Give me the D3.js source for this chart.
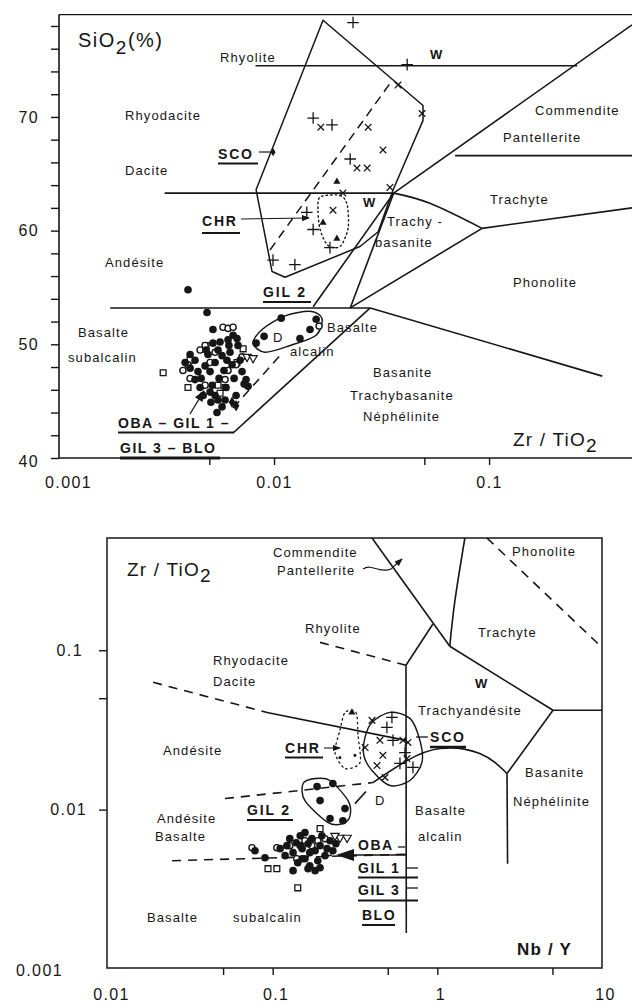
<!DOCTYPE html>
<html>
<head>
<meta charset="utf-8">
<script src="https://cdn.jsdelivr.net/npm/d3@7"></script>
<style>
  body { margin: 0; background: #fff; }
  svg text { font-family: "Liberation Sans", Arial, Helvetica, sans-serif; fill: #161616; }
</style>
</head>
<body>
<svg id="chart" width="632" height="1004"></svg>
<script>
// ================= Upper diagram: SiO2 (%) versus Zr/TiO2 =================
const topXTicks = [0.001, 0.005, 0.01, 0.05, 0.1];
const topXLabels = ["0.001", "", "0.01", "", "0.1"];
const topYTicks = [40, 42, 44, 46, 48, 50, 52, 54, 56, 58, 60, 62, 64, 66, 68, 70, 72, 74, 76, 78];
const topYLabels = [40, 50, 60, 70];

// field boundaries [Zr/TiO2, SiO2]
const topFieldLines = [
  [[0.0082, 74.5], [0.257, 74.5]],
  [[0.036, 63.3], [0.462, 78.1]],
  [[0.0695, 66.6], [0.462, 66.6]],
  [[0.0031, 63.3], [0.036, 63.3]],
  [[0.0927, 60.2], [0.462, 62.0]],
  [[0.0927, 60.2], [0.0226, 53.2]],
  [[0.036, 63.3], [0.0226, 53.2]],
  [[0.036, 63.3], [0.0152, 53.3]],
  [[0.00173, 53.2], [0.028, 53.2]],
  [[0.028, 53.2], [0.336, 47.2]],
  [[0.00645, 42.2], [0.028, 53.2]]
];
const topFieldCurves = [
  [[0.036, 63.3], [0.0531, 62.4], [0.0927, 60.2]]
];
const topTrendDashed = [
  [[0.00958, 58.3], [0.0354, 73.2]],
  [[0.00645, 44.4], [0.011, 49.3]]
];
const topScoEnvelope = [[0.0169, 78.5], [0.0493, 71.0], [0.0493, 69.7], [0.0358, 63.6], [0.0305, 59.9],
  [0.0251, 58.6], [0.01125, 55.9], [0.00979, 56.4], [0.00825, 63.6]];
const topChrEnvelope = [[0.0164, 62.96], [0.0203, 63.1], [0.0219, 62.25], [0.0221, 60.2], [0.0203, 58.6],
  [0.0178, 58.7], [0.0164, 60.05], [0.016, 61.8]];
const topGil2Envelope = [[0.00799, 50.1], [0.0088, 51.3], [0.01125, 52.5], [0.0147, 52.9], [0.0167, 52.3],
  [0.0157, 50.8], [0.0119, 49.9], [0.00908, 49.3]];

// samples [Zr/TiO2, SiO2]
const topBasaltDots = [[0.00398, 54.8], [0.00488, 52.8], [0.0052, 51.3], [0.00611, 50.4], [0.00645, 50.8],
  [0.00673, 50.5], [0.00617, 49.9], [0.00561, 50.2], [0.0052, 50.1], [0.00483, 49.5], [0.00549, 49.5],
  [0.0068, 49.9], [0.00493, 49.1], [0.00573, 49.0], [0.00624, 49.3], [0.00407, 49.1], [0.00386, 48.4],
  [0.00429, 48.6], [0.00532, 48.4], [0.00604, 48.6], [0.00695, 48.6], [0.00478, 48.1], [0.00638, 48.2],
  [0.00407, 47.9], [0.00585, 47.7], [0.00443, 47.6], [0.00504, 47.6], [0.0071, 47.6], [0.00458, 47.0],
  [0.00555, 47.0], [0.00652, 47.0], [0.00429, 46.9], [0.00741, 46.9], [0.00726, 46.5], [0.00515, 46.4],
  [0.00757, 46.3], [0.00598, 46.2], [0.00453, 46.2], [0.00504, 45.8], [0.00532, 45.5], [0.00666, 45.5],
  [0.00468, 45.5], [0.00549, 45.1], [0.00592, 45.1], [0.00509, 44.9], [0.00573, 44.5], [0.00543, 44.0]];
const topBasaltRings = [[0.00579, 51.5], [0.00611, 51.4], [0.00645, 51.5], [0.00453, 49.5], [0.00398, 48.2],
  [0.00478, 49.9], [0.00532, 49.3], [0.00407, 47.0], [0.00611, 47.7], [0.00666, 48.2], [0.0071, 48.9],
  [0.00504, 48.4], [0.00592, 46.9], [0.00478, 46.4], [0.00377, 47.7]];
const topBasaltSquares = [[0.00305, 47.5], [0.00398, 46.2], [0.00483, 49.9], [0.00718, 49.6], [0.00592, 46.2],
  [0.00549, 46.4], [0.00407, 48.6], [0.00673, 48.4], [0.00561, 45.7]];
const topBasaltTriangles = [[0.00749, 48.9], [0.00799, 48.8]];
const topBasaltDiamonds = [[0.00638, 44.9], [0.00666, 44.6]];
const topGil2Dots = [[0.00825, 50.1], [0.00899, 50.7], [0.0108, 52.3], [0.0132, 50.5], [0.0157, 52.2], [0.0147, 51.3]];
const topGil2Rings = [[0.0162, 51.6]];
const topScoPlus = [[0.0152, 69.9], [0.0186, 69.3], [0.0226, 66.3], [0.0416, 74.6], [0.0233, 78.3],
  [0.0142, 61.6], [0.0152, 60.1], [0.0182, 58.5], [0.0125, 57.0], [0.00989, 57.4]];
const topScoCross = [[0.0165, 69.1], [0.0274, 69.1], [0.0377, 72.8], [0.0488, 70.3], [0.0321, 67.1],
  [0.0243, 65.5], [0.0271, 65.5], [0.0346, 63.8], [0.0209, 63.3], [0.0188, 61.8]];
const topChrTriangles = [[0.0196, 64.3], [0.0169, 60.7], [0.0196, 59.3]];

// ================= Lower diagram: Zr/TiO2 versus Nb/Y =================
const botXTicks = [0.01, 0.05, 0.1, 0.5, 1, 5, 10];
const botXLabels = ["0.01", "", "0.1", "", "1", "", "10"];
const botYTicks = [0.001, 0.01, 0.05, 0.1];
const botYLabels = ["0.001", "0.01", "", "0.1"];

// field boundaries [Nb/Y, Zr/TiO2]
const botFieldLines = [
  [[0.401, 0.506], [1.19, 0.106]],
  [[1.19, 0.106], [5.04, 0.042]],
  [[5.04, 0.042], [10, 0.042]],
  [[5.04, 0.042], [2.65, 0.01684]],
  [[2.65, 0.01684], [2.67, 0.00457]],
  [[0.94, 0.146], [0.645, 0.0805]],
  [[0.645, 0.0805], [0.648, 0.00168]],
  [[0.0924, 0.0407], [0.645, 0.0272]]
];
const botFieldCurves = [
  [[1.47, 0.506], [1.28, 0.206], [1.19, 0.106]],
  [[0.406, 0.01478], [0.654, 0.0203], [1.04, 0.0242], [1.81, 0.0225], [2.65, 0.01684]]
];
const botFieldDashed = [
  [[2.0, 0.506], [10, 0.104]],
  [[0.194, 0.112], [0.645, 0.0805]],
  [[0.0188, 0.0629], [0.0924, 0.0407]],
  [[0.0513, 0.01173], [0.406, 0.01478]],
  [[0.0245, 0.00478], [0.645, 0.00525]]
];
const botTieLines = [
  [[0.316, 0.0109], [0.369, 0.013]]
];
const botScoEnvelope = [[0.3635, 0.02837], [0.401, 0.03524], [0.5155, 0.04074], [0.682, 0.03736],
  [0.784, 0.02716], [0.806, 0.01975], [0.682, 0.01522], [0.5155, 0.01416], [0.401, 0.01759], [0.358, 0.02186]];
const botChrEnvelope = [[0.275, 0.0407], [0.321, 0.0407], [0.33, 0.0292], [0.339, 0.01975], [0.275, 0.0181],
  [0.239, 0.0228], [0.256, 0.0314]];
const botGil2Envelope = [[0.153, 0.01457], [0.181, 0.01567], [0.223, 0.01522], [0.287, 0.01139],
  [0.295, 0.00917], [0.267, 0.00817], [0.217, 0.00829], [0.157, 0.01139]];

// samples [Nb/Y, Zr/TiO2]
const botBasaltDots = [[0.0781, 0.00552], [0.0898, 0.00499], [0.111, 0.00569], [0.122, 0.00594], [0.127, 0.00657],
  [0.133, 0.00537], [0.139, 0.0062], [0.147, 0.00686], [0.151, 0.00569], [0.157, 0.00492], [0.164, 0.00611],
  [0.168, 0.00444], [0.173, 0.00657], [0.181, 0.00552], [0.188, 0.00478], [0.194, 0.00594], [0.199, 0.00686],
  [0.208, 0.00514], [0.214, 0.00569], [0.223, 0.00638], [0.142, 0.00464], [0.133, 0.00414], [0.181, 0.00414],
  [0.194, 0.00432], [0.157, 0.00717], [0.119, 0.00514], [0.168, 0.00537], [0.232, 0.00552], [0.242, 0.00611],
  [0.147, 0.00594], [0.164, 0.00426], [0.151, 0.00492]];
const botBasaltRings = [[0.0749, 0.00577], [0.106, 0.00577], [0.14, 0.00492], [0.127, 0.00594],
  [0.173, 0.00594], [0.188, 0.00638], [0.208, 0.00657], [0.157, 0.00638]];
const botBasaltSquares = [[0.0937, 0.00426], [0.106, 0.00426], [0.142, 0.00323], [0.194, 0.0076], [0.217, 0.00537]];
const botBasaltTriangles = [[0.256, 0.00667], [0.283, 0.00667], [0.239, 0.00686]];
const botGil2Dots = [[0.186, 0.01395], [0.232, 0.01457], [0.194, 0.01139], [0.275, 0.01015], [0.267, 0.00852], [0.223, 0.00878]];
const botScoPlus = [[0.53, 0.0379], [0.494, 0.0328], [0.538, 0.0272], [0.636, 0.0228], [0.711, 0.0184], [0.593, 0.0195]];
const botScoCross = [[0.401, 0.0363], [0.448, 0.0272], [0.618, 0.0272], [0.663, 0.0264], [0.364, 0.0245],
  [0.467, 0.0219], [0.654, 0.0209], [0.43, 0.0189], [0.481, 0.0159]];
const botChrTriangles = [[0.303, 0.0407]];
const botChrSmall = [[0.256, 0.0212], [0.316, 0.0219]];

// ================= drawing =================
const INK = "#161616";
const svg = d3.select("#chart");
const defs = svg.append("defs");
defs.append("marker").attr("id", "arrow").attr("viewBox", "0 0 10 8")
  .attr("refX", 9).attr("refY", 4).attr("markerWidth", 8).attr("markerHeight", 6.4)
  .attr("markerUnits", "userSpaceOnUse").attr("orient", "auto")
  .append("path").attr("d", "M0,0 L10,4 L0,8 Z").attr("fill", INK);
defs.append("marker").attr("id", "arrowBig").attr("viewBox", "0 0 10 8")
  .attr("refX", 9).attr("refY", 4).attr("markerWidth", 12).attr("markerHeight", 9)
  .attr("markerUnits", "userSpaceOnUse").attr("orient", "auto")
  .append("path").attr("d", "M0,0 L10,4 L0,8 Z").attr("fill", INK);

function txt(g, s, x, y, o = {}) {
  return g.append("text").attr("x", x).attr("y", y)
    .attr("font-size", o.size || 13)
    .attr("letter-spacing", o.ls !== undefined ? o.ls : 1.1)
    .attr("font-weight", o.bold ? "bold" : null)
    .attr("text-anchor", o.anchor || "start")
    .text(s);
}
function seg(g, x1, y1, x2, y2, w = 1.4, extra) {
  const l = g.append("line").attr("x1", x1).attr("y1", y1).attr("x2", x2).attr("y2", y2)
    .attr("stroke", INK).attr("stroke-width", w);
  if (extra) extra(l);
  return l;
}
function drawLines(g, sets, x, y, opt = {}) {
  const gen = d3.line().x(d => x(d[0])).y(d => y(d[1])).curve(opt.curve || d3.curveLinear);
  g.selectAll(null).data(sets).join("path")
    .attr("d", gen).attr("fill", "none").attr("stroke", INK)
    .attr("stroke-width", opt.width || 1.6)
    .attr("stroke-dasharray", opt.dash || null)
    .attr("stroke-linejoin", "round");
}
function drawShape(g, pts, x, y, curve, opt = {}) {
  const gen = d3.line().x(d => x(d[0])).y(d => y(d[1])).curve(curve);
  g.append("path").datum(pts).attr("d", gen).attr("fill", "none").attr("stroke", INK)
    .attr("stroke-width", opt.width || 1.4).attr("stroke-dasharray", opt.dash || null)
    .attr("stroke-linejoin", "round").attr("stroke-linecap", "round");
}
function drawPoints(g, data, x, y, kind) {
  const sel = g.selectAll(null).data(data).join("path")
    .attr("transform", d => `translate(${x(d[0])},${y(d[1])})`);
  const sym = d3.symbol();
  if (kind === "dot") sel.attr("d", sym.type(d3.symbolCircle).size(46)()).attr("fill", INK);
  if (kind === "ring") sel.attr("d", sym.type(d3.symbolCircle).size(30)()).attr("fill", "#fff").attr("stroke", INK).attr("stroke-width", 1.4);
  if (kind === "square") sel.attr("d", sym.type(d3.symbolSquare).size(34)()).attr("fill", "#fff").attr("stroke", INK).attr("stroke-width", 1.3);
  if (kind === "tri") sel.attr("d", sym.type(d3.symbolTriangle).size(30)()).attr("transform", d => `translate(${x(d[0])},${y(d[1])}) rotate(180)`).attr("fill", "#fff").attr("stroke", INK).attr("stroke-width", 1.2);
  if (kind === "triFill") sel.attr("d", sym.type(d3.symbolTriangle).size(22)()).attr("fill", INK);
  if (kind === "diamond") sel.attr("d", sym.type(d3.symbolDiamond).size(38)()).attr("fill", INK);
  if (kind === "plus") sel.attr("d", sym.type(d3.symbolPlus).size(46)()).attr("fill", "none").attr("stroke", INK).attr("stroke-width", 1.3);
  if (kind === "cross") sel.attr("d", sym.type(d3.symbolTimes).size(30)()).attr("fill", "none").attr("stroke", INK).attr("stroke-width", 1.3);
  if (kind === "speck") sel.attr("d", sym.type(d3.symbolCircle).size(8)()).attr("fill", INK);
}
function styleAxis(a, fontSize) {
  a.select(".domain").remove();
  a.selectAll(".tick line").attr("stroke", INK).attr("stroke-width", 1.4);
  a.selectAll(".tick text").attr("font-size", fontSize).attr("letter-spacing", 1.4)
    .attr("font-family", "'Liberation Sans', Arial, sans-serif").attr("fill", INK);
}

// ---------- upper diagram ----------
const xT = d3.scaleLog().domain([0.001, 0.462]).range([59, 632]);
const yT = d3.scaleLinear().domain([40, 79]).range([458, 14.6]);
const gT = svg.append("g");

// frame
seg(gT, xT(0.001), yT(79), xT(0.462), yT(79), 1.2);
seg(gT, xT(0.001), yT(79), xT(0.001), yT(40), 1.6);
seg(gT, xT(0.001), yT(40), xT(0.462), yT(40), 1.6);

const axTX = gT.append("g").attr("transform", `translate(0,${yT(40)})`)
  .call(d3.axisBottom(xT).tickValues(topXTicks).tickSize(7).tickSizeOuter(0).tickPadding(12)
    .tickFormat((d, i) => topXLabels[i]));
styleAxis(axTX, 16);
axTX.selectAll(".tick").filter(d => d === 0.001).select("line").remove();
axTX.selectAll(".tick").filter(d => d === 0.001).select("text").attr("dx", 9);

const axTY = gT.append("g").attr("transform", `translate(${xT(0.001)},0)`)
  .call(d3.axisLeft(yT).tickValues(topYTicks).tickSize(8).tickSizeOuter(0).tickPadding(12)
    .tickFormat(d => topYLabels.includes(d) ? d : ""));
styleAxis(axTY, 16);
axTY.selectAll(".tick").filter(d => d === 40).select("text").attr("dy", "0.55em");

drawLines(gT, topFieldLines, xT, yT, { width: 1.6 });
drawLines(gT, topFieldCurves, xT, yT, { width: 1.6, curve: d3.curveNatural });
drawLines(gT, topTrendDashed, xT, yT, { width: 1.5, dash: "9,6" });
drawShape(gT, topScoEnvelope, xT, yT, d3.curveLinearClosed, { width: 1.5 });
drawShape(gT, topChrEnvelope, xT, yT, d3.curveCardinalClosed.tension(0.2), { width: 1.4, dash: "1.5,3" });
drawShape(gT, topGil2Envelope, xT, yT, d3.curveCardinalClosed.tension(0.1), { width: 1.5 });

drawPoints(gT, topBasaltSquares, xT, yT, "square");
drawPoints(gT, topBasaltRings, xT, yT, "ring");
drawPoints(gT, topBasaltDots, xT, yT, "dot");
drawPoints(gT, topBasaltTriangles, xT, yT, "tri");
drawPoints(gT, topBasaltDiamonds, xT, yT, "diamond");
drawPoints(gT, topGil2Dots, xT, yT, "dot");
drawPoints(gT, topGil2Rings, xT, yT, "ring");
drawPoints(gT, topScoPlus, xT, yT, "plus");
drawPoints(gT, topScoCross, xT, yT, "cross");
drawPoints(gT, topChrTriangles, xT, yT, "triFill");

// labels
const tl = gT.append("g");
const sio = txt(tl, "SiO", 78, 47, { size: 20, ls: 1.5 });
sio.append("tspan").attr("dy", 7).attr("font-size", 19).text("2");
sio.append("tspan").attr("dy", -7).text("(%)");
txt(tl, "Rhyolite", 220, 62);
txt(tl, "W", 430, 59, { bold: true, size: 13 });
txt(tl, "Rhyodacite", 125, 120);
txt(tl, "Commendite", 535, 115);
txt(tl, "Pantellerite", 503, 142);
txt(tl, "Dacite", 125, 175);
txt(tl, "W", 363, 207, { bold: true, size: 13 });
txt(tl, "Trachy -", 387, 226);
txt(tl, "basanite", 375, 247);
txt(tl, "Trachyte", 490, 204);
txt(tl, "Andésite", 105, 267);
txt(tl, "Phonolite", 513, 287);
txt(tl, "Basalte", 78, 337);
txt(tl, "subalcalin", 68, 362);
txt(tl, "D", 273, 342, { size: 13 });
txt(tl, "Basalte", 327, 332);
txt(tl, "alcalin", 290, 356);
txt(tl, "Basanite", 373, 377);
txt(tl, "Trachybasanite", 350, 400);
txt(tl, "Néphélinite", 363, 421);
const zt = txt(tl, "Zr / TiO", 513, 446, { size: 19, ls: 1.2 });
zt.append("tspan").attr("dy", 6).text("2");

txt(tl, "SCO", 218, 159, { bold: true, size: 14, ls: 1.8 });
seg(tl, 218, 163.5, 258, 163.5, 2.2);
seg(tl, 259, 152, 271, 152, 1.2);
tl.append("path").attr("d", d3.symbol().type(d3.symbolDiamond).size(20)())
  .attr("transform", `translate(${xT(0.0099)},${yT(66.9)})`).attr("fill", INK);
txt(tl, "CHR", 202, 226, { bold: true, size: 14, ls: 1.8 });
seg(tl, 202, 233, 240, 233, 2.2);
seg(tl, 241, 219, 309, 218, 1.1, l => l.attr("marker-end", "url(#arrow)"));
txt(tl, "GIL 2", 263, 297, { bold: true, size: 14, ls: 1.8 });
seg(tl, 263, 302, 311, 302, 2);
txt(tl, "OBA – GIL 1 –", 118, 428, { bold: true, size: 14, ls: 1.5 });
seg(tl, 118, 432.5, 234, 432.5, 2);
txt(tl, "GIL 3 – BLO", 120, 453, { bold: true, size: 14, ls: 1.5 });
seg(tl, 120, 458, 220, 458, 3.2);
seg(tl, 190, 414, 204, 391, 1.3, l => l.attr("marker-end", "url(#arrowBig)"));

// ---------- lower diagram ----------
const xB = d3.scaleLog().domain([0.01, 10]).range([108, 602]);
const yB = d3.scaleLog().domain([0.001, 0.506]).range([969, 538]);
const gB = svg.append("g");

gB.append("rect").attr("x", 107).attr("y", yB(0.506)).attr("width", xB(10) - 107)
  .attr("height", 968 - yB(0.506)).attr("fill", "none").attr("stroke", INK).attr("stroke-width", 1.5);

const axBX = gB.append("g").attr("transform", "translate(0,968)")
  .call(d3.axisBottom(xB).tickValues(botXTicks).tickSize(7).tickSizeOuter(0).tickPadding(14)
    .tickFormat((d, i) => botXLabels[i]));
styleAxis(axBX, 16);
axBX.selectAll(".tick").filter(d => d === 0.01 || d === 10).select("line").remove();
axBX.selectAll(".tick text").attr("dx", 3);

const axBY = gB.append("g").attr("transform", "translate(107,0)")
  .call(d3.axisLeft(yB).tickValues(botYTicks).tickSize(8).tickSizeOuter(0).tickPadding(12)
    .tickFormat((d, i) => botYLabels[i]));
styleAxis(axBY, 16);
axBY.selectAll(".tick").filter(d => d === 0.001).select("line").remove();
axBY.selectAll(".tick").filter(d => d === 0.001).select("text").attr("dx", -24).attr("dy", "0.4em");
axBY.selectAll(".tick").filter(d => d === 0.1).select("text").attr("dx", -4);

drawLines(gB, botFieldLines, xB, yB, { width: 1.6 });
drawLines(gB, botFieldCurves, xB, yB, { width: 1.6, curve: d3.curveNatural });
drawLines(gB, botFieldDashed, xB, yB, { width: 1.6, dash: "9,7" });
drawLines(gB, botTieLines, xB, yB, { width: 1.6 });
drawShape(gB, botScoEnvelope, xB, yB, d3.curveCardinalClosed.tension(0.1), { width: 1.4 });
drawShape(gB, botChrEnvelope, xB, yB, d3.curveCardinalClosed.tension(0.2), { width: 1.3, dash: "1.5,3.5" });
drawShape(gB, botGil2Envelope, xB, yB, d3.curveCardinalClosed.tension(0.1), { width: 1.4 });

drawPoints(gB, botBasaltSquares, xB, yB, "square");
drawPoints(gB, botBasaltRings, xB, yB, "ring");
drawPoints(gB, botBasaltDots, xB, yB, "dot");
drawPoints(gB, botBasaltTriangles, xB, yB, "tri");
drawPoints(gB, botGil2Dots, xB, yB, "dot");
drawPoints(gB, botScoPlus, xB, yB, "plus");
drawPoints(gB, botScoCross, xB, yB, "cross");
drawPoints(gB, botChrTriangles, xB, yB, "triFill");
drawPoints(gB, botChrSmall, xB, yB, "speck");

const bl = gB.append("g");
const zb = txt(bl, "Zr / TiO", 127, 576, { size: 19, ls: 1.2 });
zb.append("tspan").attr("dy", 6).text("2");
txt(bl, "Commendite", 273, 557);
txt(bl, "Pantellerite", 277, 575);
bl.append("path").attr("d", "M363,569 C372,563 380,574 391,569 L402,559")
  .attr("fill", "none").attr("stroke", INK).attr("stroke-width", 1.1).attr("marker-end", "url(#arrow)");
txt(bl, "Phonolite", 512, 556);
txt(bl, "Rhyolite", 305, 633);
txt(bl, "Trachyte", 478, 637);
txt(bl, "Rhyodacite", 213, 665);
txt(bl, "Dacite", 213, 686);
txt(bl, "W", 475, 688, { bold: true, size: 13 });
txt(bl, "Trachyandésite", 418, 715);
txt(bl, "Andésite", 163, 755);
txt(bl, "CHR", 285, 753, { bold: true, size: 14, ls: 1.8 });
seg(bl, 285, 757.5, 323, 757.5, 2.2);
seg(bl, 324, 748, 340, 748, 1.1, l => l.attr("marker-end", "url(#arrow)"));
seg(bl, 416, 737, 428, 737, 1.3);
txt(bl, "SCO", 430, 742, { bold: true, size: 14, ls: 1.8 });
seg(bl, 430, 747, 466, 747, 2.4);
txt(bl, "D", 375, 805, { size: 13 });
txt(bl, "Basanite", 525, 777);
txt(bl, "Néphélinite", 513, 806);
txt(bl, "Basalte", 415, 815);
txt(bl, "alcalin", 418, 841);
txt(bl, "Andésite", 157, 823);
txt(bl, "Basalte", 155, 841);
txt(bl, "GIL 2", 247, 815, { bold: true, size: 14, ls: 1.8 });
seg(bl, 247, 820, 293, 820, 2.2);
txt(bl, "OBA", 358, 850, { bold: true, size: 14, ls: 1.5 });
seg(bl, 398, 847, 405, 847, 1.3);
seg(bl, 407, 855, 352, 855, 1.6);
bl.append("path").attr("d", "M336,855 L354,849 L354,861 Z").attr("fill", INK);
txt(bl, "GIL 1", 358, 873, { bold: true, size: 14, ls: 1.5 });
seg(bl, 407, 868, 418, 868, 1.3);
seg(bl, 358, 877.5, 418, 877.5, 2);
txt(bl, "GIL 3", 358, 895, { bold: true, size: 14, ls: 1.5 });
seg(bl, 407, 888, 418, 888, 1.3);
seg(bl, 358, 900.5, 418, 900.5, 2);
txt(bl, "BLO", 362, 920, { bold: true, size: 14, ls: 1.5 });
seg(bl, 362, 925, 395, 925, 2.2);
txt(bl, "Basalte", 147, 922);
txt(bl, "subalcalin", 233, 922);
txt(bl, "Nb / Y", 517, 955, { bold: true, size: 17, ls: 1.2 });
</script>
</body>
</html>
